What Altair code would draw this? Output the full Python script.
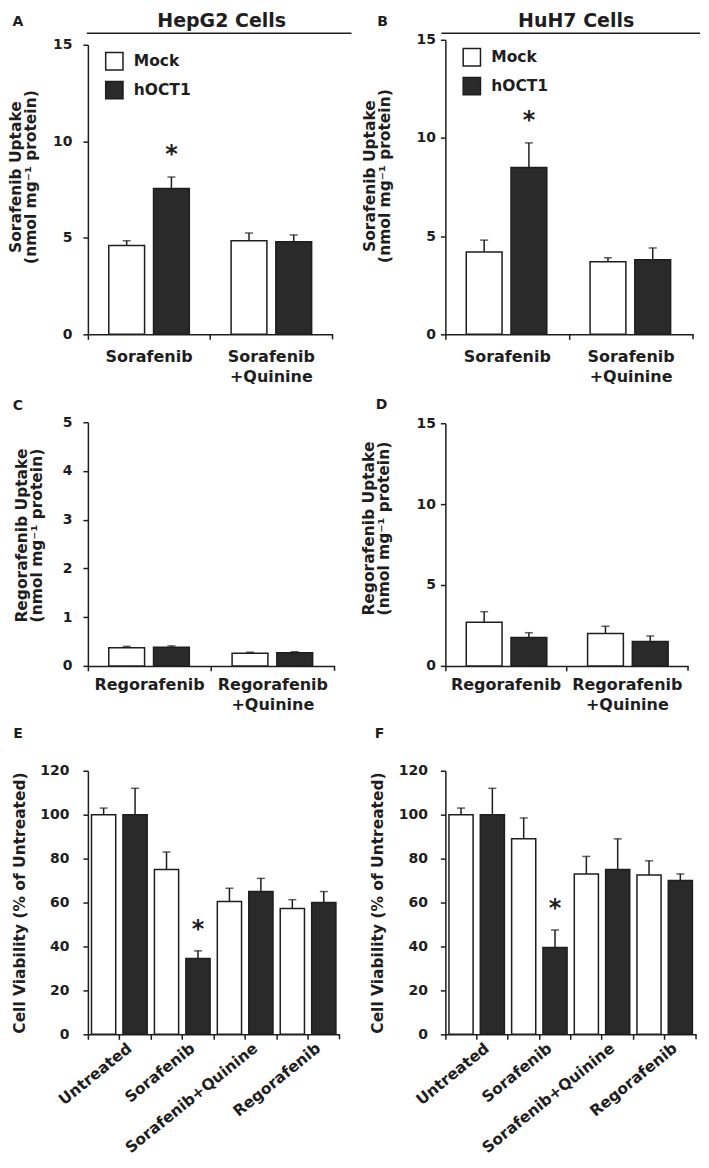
import altair as alt
import pandas as pd

FONT = "DejaVu Sans"
INK = "#1e1e1e"

groups = ["Mock", "hOCT1"]
group_colors = ["#ffffff", "#2a2a2a"]

# Panel A: HepG2, sorafenib uptake (nmol/mg protein)
a_cats = ["Sorafenib", "Sorafenib|+Quinine"]
a_mock = [4.60, 4.85]
a_mock_err = [0.25, 0.40]
a_hoct1 = [7.55, 4.80]
a_hoct1_err = [0.60, 0.35]
a_sig = [True, False]

# Panel B: HuH7, sorafenib uptake
b_cats = ["Sorafenib", "Sorafenib|+Quinine"]
b_mock = [4.20, 3.70]
b_mock_err = [0.60, 0.20]
b_hoct1 = [8.50, 3.80]
b_hoct1_err = [1.25, 0.60]
b_sig = [True, False]

# Panel C: HepG2, regorafenib uptake
c_cats = ["Regorafenib", "Regorafenib|+Quinine"]
c_mock = [0.37, 0.26]
c_mock_err = [0.03, 0.02]
c_hoct1 = [0.38, 0.27]
c_hoct1_err = [0.03, 0.02]

# Panel D: HuH7, regorafenib uptake
d_cats = ["Regorafenib", "Regorafenib|+Quinine"]
d_mock = [2.70, 2.00]
d_mock_err = [0.65, 0.45]
d_hoct1 = [1.75, 1.50]
d_hoct1_err = [0.30, 0.35]

# Panels E/F: cell viability (% of untreated)
via_cats = ["Untreated", "Sorafenib", "Sorafenib+Quinine", "Regorafenib"]
e_mock = [100, 75, 60.5, 57.3]
e_mock_err = [3, 8, 6, 4]
e_hoct1 = [100, 34.5, 65, 60]
e_hoct1_err = [12, 3.5, 6, 5]
e_sig = [False, True, False, False]

f_mock = [100, 89, 73, 72.5]
f_mock_err = [3, 9.5, 8, 6.5]
f_hoct1 = [100, 39.5, 75, 70]
f_hoct1_err = [12, 8, 14, 3]
f_sig = [False, True, False, False]

uptake_ticks_15 = [0, 5, 10, 15]
uptake_ticks_5 = [0, 1, 2, 3, 4, 5]
via_ticks = [0, 20, 40, 60, 80, 100, 120]

sor_title = ["Sorafenib Uptake", "(nmol mg\u207b\u00b9 protein)"]
reg_title = ["Regorafenib Uptake", "(nmol mg\u207b\u00b9 protein)"]
via_title = "Cell Viability (% of Untreated)"


def frame(cats, mock, mock_err, hoct1, hoct1_err, sig=None):
    sig = sig or [False] * len(cats)
    rows = []
    for i, c in enumerate(cats):
        for g, v, e, s in (("Mock", mock[i], mock_err[i], False),
                           ("hOCT1", hoct1[i], hoct1_err[i], sig[i])):
            rows.append({"cat": c, "group": g, "bar": f"{c}#{g}", "value": v,
                         "upper": v + e, "star": "*" if s else ""})
    return pd.DataFrame(rows)


def fill_enc(legend_y):
    leg = None
    if legend_y is not None:
        leg = alt.Legend(orient="none", legendX=17, legendY=legend_y, title=None,
                         symbolType="square", symbolSize=300, symbolStrokeColor=INK,
                         symbolStrokeWidth=1.5, labelFont=FONT, labelFontSize=15.5,
                         labelFontWeight="bold", labelColor=INK, labelOffset=10,
                         rowPadding=4, padding=0)
    return alt.Fill("group:N", sort=groups,
                     scale=alt.Scale(domain=groups, range=group_colors),
                     legend=leg)


def deco_layers(w, h, letter, letter_xy, header):
    out = []
    out.append(alt.Chart(pd.DataFrame({"t": [letter]})).mark_text(
        font=FONT, fontWeight="bold", fontSize=14, color=INK, align="center",
        baseline="middle").encode(x=alt.value(letter_xy[0]), y=alt.value(letter_xy[1]),
                                  text="t:N"))
    out.append(alt.Chart(pd.DataFrame({"t": [0]})).mark_rule(
        color=INK, strokeWidth=1.5).encode(x=alt.value(w), y=alt.value(h),
                                           y2=alt.value(h + 5)))
    if header is not None:
        text, tx, x1, x2 = header
        out.append(alt.Chart(pd.DataFrame({"t": [text]})).mark_text(
            font=FONT, fontWeight="bold", fontSize=19, color=INK, align="center",
            baseline="alphabetic").encode(x=alt.value(tx), y=alt.value(-12.5), text="t:N"))
        out.append(alt.Chart(pd.DataFrame({"t": [0]})).mark_rule(
            color=INK, strokeWidth=1.5).encode(x=alt.value(x1), x2=alt.value(x2),
                                               y=alt.value(-6.5)))
        # transparent spacer so the header text keeps its full ascent inside the page
        out.append(alt.Chart(pd.DataFrame({"t": [0]})).mark_rule(
            color="white", strokeWidth=1, opacity=0).encode(
                x=alt.value(tx - 5), x2=alt.value(tx + 5), y=alt.value(-30.5)))
    return out


def uptake_panel(df, cats, ymax, ticks, ytitle, w, h, top, lab_pad, title_pad,
                 title_y, xl_pad, letter, letter_xy, header=None, legend_y=None):
    x = alt.X("cat:N", sort=cats, scale=alt.Scale(paddingInner=0, paddingOuter=0),
              axis=alt.Axis(title=None, bandPosition=0,
                            labelAngle=0, labelAlign="center", labelBaseline="top",
                            labelPadding=xl_pad, labelLineHeight=20,
                            labelExpr="split(datum.label, '|')", labelOverlap=False,
                            labelFontSize=16))
    xo = alt.XOffset("group:N", sort=groups,
                     scale=alt.Scale(paddingInner=0.2, paddingOuter=0.467))
    y = alt.Y("value:Q", scale=alt.Scale(domain=[0, ymax], range=[h, top], nice=False),
              axis=alt.Axis(values=ticks, title=ytitle, titlePadding=title_pad,
                            titleY=title_y, labelPadding=lab_pad, format="d"))
    base = alt.Chart(df)
    bars = base.mark_bar(stroke=INK, strokeWidth=1.5).encode(
        x=x, xOffset=xo, y=y, fill=fill_enc(legend_y))
    err = base.mark_rule(color=INK, strokeWidth=1.5).encode(
        x=x, xOffset=xo, y=y, y2="upper:Q")
    cap = base.mark_tick(color=INK, thickness=1.5, size=8, orient="horizontal").encode(
        x=x, xOffset=xo, y=alt.Y("upper:Q"))
    layers = [bars, err, cap]
    if (df["star"] != "").any():
        layers.append(base.transform_filter("datum.star != ''").mark_text(
            font=FONT, fontWeight="bold", fontSize=24, color=INK, baseline="alphabetic",
            dy=-15).encode(x=x, xOffset=xo, y=alt.Y("upper:Q"), text="star:N"))
    layers += deco_layers(w, h, letter, letter_xy, header)
    return alt.layer(*layers).properties(width=w, height=h)


def viability_panel(df, w, h, top, lab_pad, title_pad, letter, letter_xy):
    keys = [f"{c}#{g}" for c in via_cats for g in groups]
    x = alt.X("bar:N", sort=keys, scale=alt.Scale(paddingInner=0, paddingOuter=0),
              axis=alt.Axis(title=None, bandPosition=0,
                            labelExpr="indexof(datum.label, '#hOCT1') > 0 ? split(datum.label, '#')[0] : ''",
                            labelAngle=-39, labelAlign="right", labelBaseline="top",
                            labelOffset=-(w / 16) + 6, labelPadding=1, labelOverlap=False,
                            labelFontSize=15.5))
    y = alt.Y("value:Q", scale=alt.Scale(domain=[0, 120], range=[h, top], nice=False),
              axis=alt.Axis(values=via_ticks, title=via_title, titlePadding=title_pad,
                            labelPadding=lab_pad, format="d"))
    base = alt.Chart(df)
    bars = base.mark_bar(width=alt.RelativeBandSize(0.77), stroke=INK,
                         strokeWidth=1.5).encode(x=x, y=y, fill=fill_enc(None))
    err = base.mark_rule(color=INK, strokeWidth=1.5).encode(x=x, y=y, y2="upper:Q")
    cap = base.mark_tick(color=INK, thickness=1.5, size=8, orient="horizontal").encode(
        x=x, y=alt.Y("upper:Q"))
    star = base.transform_filter("datum.star != ''").mark_text(
        font=FONT, fontWeight="bold", fontSize=24, color=INK, baseline="alphabetic",
        dy=-14).encode(x=x, y=alt.Y("upper:Q"), text="star:N")
    layers = [bars, err, cap, star] + deco_layers(w, h, letter, letter_xy, None)
    return alt.layer(*layers).properties(width=w, height=h)


A = uptake_panel(frame(a_cats, a_mock, a_mock_err, a_hoct1, a_hoct1_err, a_sig),
                 a_cats, 15, uptake_ticks_15, sor_title, 245, 295, 5, 11, 14, 137,
                 9, "A", (-70, -17.5),
                 header=("HepG2 Cells", 134, -1, 264), legend_y=12)
B = uptake_panel(frame(b_cats, b_mock, b_mock_err, b_hoct1, b_hoct1_err, b_sig),
                 b_cats, 15, uptake_ticks_15, sor_title, 248, 295, 0, 5, 23.5, 136,
                 9, "B", (-63, -17.5),
                 header=("HuH7 Cells", 131, -4, 255), legend_y=8)
C = uptake_panel(frame(c_cats, c_mock, c_mock_err, c_hoct1, c_hoct1_err),
                 c_cats, 5, uptake_ticks_5, reg_title, 247, 244, 0, 11, 18, 113,
                 6, "C", (-70, -16))
D = uptake_panel(frame(d_cats, d_mock, d_mock_err, d_hoct1, d_hoct1_err),
                 d_cats, 15, uptake_ticks_15, reg_title, 243, 244, 1, 5, 24, 106,
                 6, "D", (-64, -17))
E = viability_panel(frame(via_cats, e_mock, e_mock_err, e_hoct1, e_hoct1_err, e_sig),
                    252, 281, 17, 14, 12, "E", (-70, -20))
F = viability_panel(frame(via_cats, f_mock, f_mock_err, f_hoct1, f_hoct1_err, f_sig),
                    251, 281, 17, 13, 13, "F", (-66, -20))

chart = alt.concat(
    A, B, C, D, E, F, columns=2, spacing={"row": 88, "column": 106},
    align="each", bounds="flush"
).resolve_scale(fill="independent").resolve_legend(fill="independent").properties(
    padding=0
).configure_view(stroke=None).configure_axis(
    grid=False, domainColor=INK, domainWidth=1.5, tickColor=INK, tickWidth=1.5,
    tickSize=5, labelFont=FONT, labelFontWeight="bold", labelFontSize=14,
    labelColor=INK, titleFont=FONT, titleFontWeight="bold", titleFontSize=15.5,
    titleColor=INK, titleLineHeight=15
)

chart.save("out.html", embed_options={"renderer": "svg", "actions": False})
